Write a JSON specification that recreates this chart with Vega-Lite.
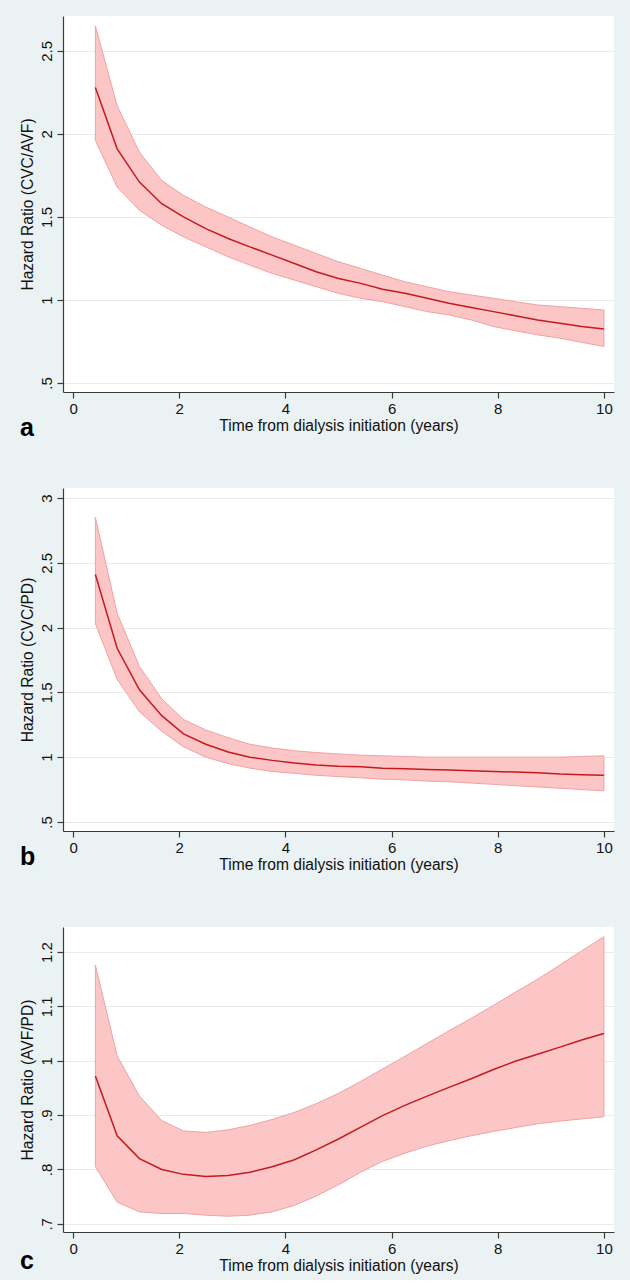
{
  "$schema": "https://vega.github.io/schema/vega-lite/v6.json",
  "padding": {"left": 20, "top": 16, "right": 17, "bottom": 6},
  "bounds": "flush",
  "spacing": 96,
  "datasets": {
    "a": [
      {"t": 0.42, "hr": 2.28, "hi": 2.65, "lo": 1.96},
      {"t": 0.83, "hr": 1.91, "hi": 2.17, "lo": 1.68},
      {"t": 1.25, "hr": 1.71, "hi": 1.89, "lo": 1.54},
      {"t": 1.67, "hr": 1.58, "hi": 1.72, "lo": 1.45},
      {"t": 2.08, "hr": 1.50, "hi": 1.63, "lo": 1.38},
      {"t": 2.5, "hr": 1.43, "hi": 1.56, "lo": 1.32},
      {"t": 2.92, "hr": 1.37, "hi": 1.50, "lo": 1.26},
      {"t": 3.33, "hr": 1.32, "hi": 1.44, "lo": 1.21},
      {"t": 3.75, "hr": 1.27, "hi": 1.38, "lo": 1.16},
      {"t": 4.17, "hr": 1.22, "hi": 1.33, "lo": 1.12},
      {"t": 4.58, "hr": 1.17, "hi": 1.28, "lo": 1.08},
      {"t": 5.0, "hr": 1.13, "hi": 1.23, "lo": 1.04},
      {"t": 5.42, "hr": 1.10, "hi": 1.19, "lo": 1.01},
      {"t": 5.83, "hr": 1.065, "hi": 1.15, "lo": 0.99},
      {"t": 6.25, "hr": 1.04, "hi": 1.11, "lo": 0.96},
      {"t": 6.67, "hr": 1.01, "hi": 1.08, "lo": 0.93},
      {"t": 7.08, "hr": 0.98, "hi": 1.05, "lo": 0.91},
      {"t": 7.5, "hr": 0.955, "hi": 1.03, "lo": 0.88},
      {"t": 7.92, "hr": 0.93, "hi": 1.01, "lo": 0.84},
      {"t": 8.33, "hr": 0.905, "hi": 0.99, "lo": 0.815},
      {"t": 8.75, "hr": 0.88, "hi": 0.97, "lo": 0.79},
      {"t": 9.17, "hr": 0.86, "hi": 0.96, "lo": 0.77},
      {"t": 9.58, "hr": 0.84, "hi": 0.95, "lo": 0.745},
      {"t": 10.0, "hr": 0.825, "hi": 0.94, "lo": 0.72}
    ],
    "b": [
      {"t": 0.42, "hr": 2.41, "hi": 2.85, "lo": 2.03},
      {"t": 0.83, "hr": 1.84, "hi": 2.11, "lo": 1.60},
      {"t": 1.25, "hr": 1.52, "hi": 1.70, "lo": 1.35},
      {"t": 1.67, "hr": 1.32, "hi": 1.45, "lo": 1.20},
      {"t": 2.08, "hr": 1.18, "hi": 1.29, "lo": 1.08},
      {"t": 2.5, "hr": 1.10, "hi": 1.21, "lo": 1.00},
      {"t": 2.92, "hr": 1.04, "hi": 1.15, "lo": 0.95},
      {"t": 3.33, "hr": 1.00, "hi": 1.10, "lo": 0.915},
      {"t": 3.75, "hr": 0.975, "hi": 1.07, "lo": 0.89},
      {"t": 4.17, "hr": 0.955, "hi": 1.05, "lo": 0.875},
      {"t": 4.58, "hr": 0.94, "hi": 1.035, "lo": 0.86},
      {"t": 5.0, "hr": 0.93, "hi": 1.025, "lo": 0.85},
      {"t": 5.42, "hr": 0.925, "hi": 1.015, "lo": 0.84},
      {"t": 5.83, "hr": 0.915, "hi": 1.01, "lo": 0.83},
      {"t": 6.25, "hr": 0.91, "hi": 1.005, "lo": 0.825},
      {"t": 6.67, "hr": 0.905, "hi": 1.0, "lo": 0.815},
      {"t": 7.08, "hr": 0.90, "hi": 1.0, "lo": 0.81},
      {"t": 7.5, "hr": 0.895, "hi": 1.0, "lo": 0.80},
      {"t": 7.92, "hr": 0.89, "hi": 1.0, "lo": 0.79},
      {"t": 8.33, "hr": 0.885, "hi": 1.0, "lo": 0.78},
      {"t": 8.75, "hr": 0.88, "hi": 1.0, "lo": 0.77},
      {"t": 9.17, "hr": 0.87, "hi": 1.0, "lo": 0.76},
      {"t": 9.58, "hr": 0.865, "hi": 1.005, "lo": 0.75},
      {"t": 10.0, "hr": 0.86, "hi": 1.01, "lo": 0.74}
    ],
    "c": [
      {"t": 0.42, "hr": 0.972, "hi": 1.176, "lo": 0.805},
      {"t": 0.83, "hr": 0.862, "hi": 1.009, "lo": 0.740},
      {"t": 1.25, "hr": 0.820, "hi": 0.935, "lo": 0.722},
      {"t": 1.67, "hr": 0.800, "hi": 0.890, "lo": 0.719},
      {"t": 2.08, "hr": 0.791, "hi": 0.871, "lo": 0.719},
      {"t": 2.5, "hr": 0.787, "hi": 0.868, "lo": 0.716},
      {"t": 2.92, "hr": 0.789, "hi": 0.873, "lo": 0.714},
      {"t": 3.33, "hr": 0.795, "hi": 0.881, "lo": 0.716},
      {"t": 3.75, "hr": 0.805, "hi": 0.892, "lo": 0.722},
      {"t": 4.17, "hr": 0.818, "hi": 0.905, "lo": 0.734},
      {"t": 4.58, "hr": 0.836, "hi": 0.921, "lo": 0.751},
      {"t": 5.0, "hr": 0.856, "hi": 0.940, "lo": 0.772},
      {"t": 5.42, "hr": 0.878, "hi": 0.962, "lo": 0.795},
      {"t": 5.83, "hr": 0.899, "hi": 0.985, "lo": 0.815},
      {"t": 6.25, "hr": 0.918, "hi": 1.008, "lo": 0.830},
      {"t": 6.67, "hr": 0.935, "hi": 1.032, "lo": 0.843},
      {"t": 7.08, "hr": 0.951, "hi": 1.055, "lo": 0.853},
      {"t": 7.5, "hr": 0.967, "hi": 1.078, "lo": 0.862},
      {"t": 7.92, "hr": 0.984, "hi": 1.102, "lo": 0.870},
      {"t": 8.33, "hr": 0.999, "hi": 1.126, "lo": 0.877},
      {"t": 8.75, "hr": 1.012, "hi": 1.150, "lo": 0.884},
      {"t": 9.17, "hr": 1.025, "hi": 1.176, "lo": 0.889},
      {"t": 9.58, "hr": 1.038, "hi": 1.202, "lo": 0.893},
      {"t": 10.0, "hr": 1.050, "hi": 1.228, "lo": 0.897}
    ]
  },
  "vconcat": [
    {
      "width": 551, "height": 376,
      "data": {"name": "a"},
      "title": {"text": "a", "dy": -22},
      "encoding": {
        "x": {"field": "t", "type": "quantitative", "title": "Time from dialysis initiation (years)",
              "scale": {"domain": [-0.19, 10.19], "nice": false, "zero": false},
              "axis": {"values": [0, 2, 4, 6, 8, 10]}}
      },
      "layer": [
        {"mark": {"type": "area", "fill": "#fcc6c6", "stroke": "#eea3a3", "strokeWidth": 1, "opacity": 1},
         "encoding": {
           "y": {"field": "lo", "type": "quantitative", "title": "Hazard Ratio (CVC/AVF)",
                 "scale": {"domain": [0.446, 2.71], "nice": false, "zero": false},
                 "axis": {"values": [0.5, 1, 1.5, 2, 2.5], "format": "~g", "labelExpr": "datum.value < 1 ? substring(datum.label, 1) : datum.label"}},
           "y2": {"field": "hi"}
         }},
        {"mark": {"type": "line", "color": "#c41a1f", "strokeWidth": 1.5},
         "encoding": {"y": {"field": "hr", "type": "quantitative", "title": "Hazard Ratio (CVC/AVF)"}}}
      ]
    },
    {
      "width": 551, "height": 343,
      "data": {"name": "b"},
      "title": {"text": "b", "dy": -32},
      "encoding": {
        "x": {"field": "t", "type": "quantitative", "title": "Time from dialysis initiation (years)",
              "scale": {"domain": [-0.19, 10.19], "nice": false, "zero": false},
              "axis": {"values": [0, 2, 4, 6, 8, 10]}}
      },
      "layer": [
        {"mark": {"type": "area", "fill": "#fcc6c6", "stroke": "#eea3a3", "strokeWidth": 1, "opacity": 1},
         "encoding": {
           "y": {"field": "lo", "type": "quantitative", "title": "Hazard Ratio (CVC/PD)",
                 "scale": {"domain": [0.43, 3.077], "nice": false, "zero": false},
                 "axis": {"values": [0.5, 1, 1.5, 2, 2.5, 3], "format": "~g", "labelExpr": "datum.value < 1 ? substring(datum.label, 1) : datum.label"}},
           "y2": {"field": "hi"}
         }},
        {"mark": {"type": "line", "color": "#c41a1f", "strokeWidth": 1.5},
         "encoding": {"y": {"field": "hr", "type": "quantitative", "title": "Hazard Ratio (CVC/PD)"}}}
      ]
    },
    {
      "width": 551, "height": 305,
      "data": {"name": "c"},
      "title": {"text": "c", "dy": -29},
      "encoding": {
        "x": {"field": "t", "type": "quantitative", "title": "Time from dialysis initiation (years)",
              "scale": {"domain": [-0.19, 10.19], "nice": false, "zero": false},
              "axis": {"values": [0, 2, 4, 6, 8, 10]}}
      },
      "layer": [
        {"mark": {"type": "area", "fill": "#fcc6c6", "stroke": "#eea3a3", "strokeWidth": 1, "opacity": 1},
         "encoding": {
           "y": {"field": "lo", "type": "quantitative", "title": "Hazard Ratio (AVF/PD)",
                 "scale": {"domain": [0.685, 1.246], "nice": false, "zero": false},
                 "axis": {"values": [0.7, 0.8, 0.9, 1, 1.1, 1.2], "format": "~g", "labelExpr": "datum.value < 1 ? substring(datum.label, 1) : datum.label"}},
           "y2": {"field": "hi"}
         }},
        {"mark": {"type": "line", "color": "#c41a1f", "strokeWidth": 1.5},
         "encoding": {"y": {"field": "hr", "type": "quantitative", "title": "Hazard Ratio (AVF/PD)"}}}
      ]
    }
  ],
  "config": {
    "background": "#eaf2f3",
    "font": "Liberation Sans",
    "view": {"fill": "white", "stroke": null},
    "axis": {
      "domainColor": "#3a3a3a", "domainWidth": 1.2,
      "tickColor": "#3a3a3a", "tickWidth": 1.2, "tickSize": 6,
      "labelFontSize": 15, "titleFontSize": 15.6,
      "labelColor": "#111111", "titleColor": "#111111",
      "titleFontWeight": "normal",
      "labelFont": "Liberation Sans", "titleFont": "Liberation Sans"
    },
    "axisX": {"grid": false, "labelPadding": 3, "titlePadding": 2, "labelFlush": false},
    "axisY": {"grid": true, "gridColor": "#ebebeb", "gridWidth": 1,
              "labelAngle": -90, "labelAlign": "center", "labelBaseline": "bottom",
              "labelPadding": 3, "titlePadding": 4, "labelFlush": false},
    "title": {"orient": "bottom", "anchor": "start", "frame": "bounds",
              "fontSize": 25, "fontWeight": "bold", "font": "Liberation Sans",
              "color": "#000000", "offset": 0}
  }
}
